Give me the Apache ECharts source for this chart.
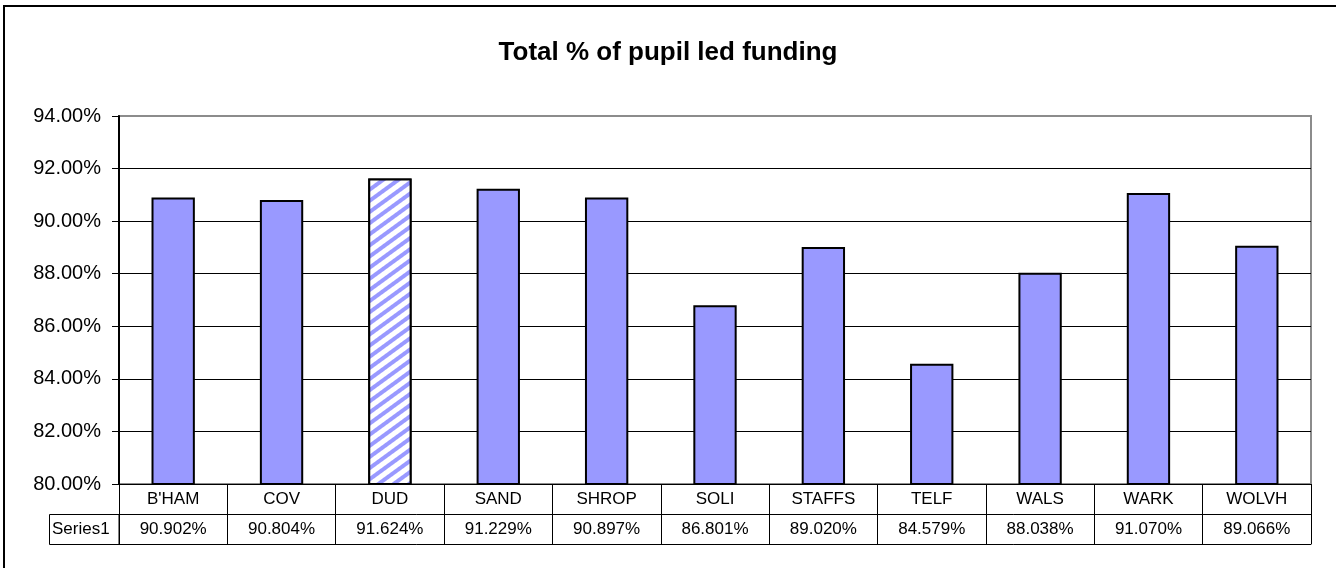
<!DOCTYPE html>
<html>
<head>
<meta charset="utf-8">
<script src="https://cdn.jsdelivr.net/npm/echarts@6/dist/echarts.min.js"></script>
<style>
html,body{margin:0;padding:0;background:#fff;}
#chart{width:1336px;height:568px;}
</style>
</head>
<body>
<div id="chart"></div>
<script>
const title = 'Total % of pupil led funding';
const categories = ["B'HAM", 'COV', 'DUD', 'SAND', 'SHROP', 'SOLI', 'STAFFS', 'TELF', 'WALS', 'WARK', 'WOLVH'];
const values = [90.902, 90.804, 91.624, 91.229, 90.897, 86.801, 89.020, 84.579, 88.038, 91.070, 89.066];
const seriesName = 'Series1';
const highlightCategory = 'DUD';
const yMin = 80, yMax = 94, yStep = 2;

const FONT = '"Liberation Sans", Arial, sans-serif';
const BLUE = '#9999FF';

const chart = echarts.init(document.getElementById('chart'), null, {renderer: 'canvas'});

const barData = values.map((v, i) => {
  if (categories[i] === highlightCategory) {
    return {
      value: v,
      itemStyle: {
        color: '#ffffff',
        decal: {
          symbol: 'rect',
          symbolSize: 1,
          dashArrayX: [1, 0],
          dashArrayY: [4, 5],
          rotation: -0.63,
          color: BLUE,
          backgroundColor: '#ffffff'
        }
      }
    };
  }
  return v;
});

const option = {
  backgroundColor: '#ffffff',
  animation: false,
  title: {
    text: title,
    left: 'center',
    top: 35,
    textStyle: {fontFamily: FONT, fontSize: 26, fontWeight: 'bold', color: '#000'}
  },
  grid: {
    left: 119, right: 25, top: 116, bottom: 84,
    show: true, borderColor: '#8c8c8c', borderWidth: 2, backgroundColor: 'transparent'
  },
  xAxis: [
    {
      type: 'category', data: categories, position: 'bottom', offset: 0,
      axisLine: {show: true, lineStyle: {color: '#000', width: 1}},
      axisTick: {show: true, alignWithLabel: false, inside: false, length: 60, lineStyle: {color: '#000', width: 1}},
      axisLabel: {show: true, interval: 0, margin: 15, verticalAlign: 'middle', fontFamily: FONT, fontSize: 17, color: '#000'},
      splitLine: {show: false}
    },
    {
      type: 'category', data: categories, position: 'bottom', offset: 30,
      axisLine: {show: true, lineStyle: {color: '#000', width: 1}},
      axisTick: {show: false},
      axisLabel: {
        show: true, interval: 0, margin: 15, verticalAlign: 'middle', fontFamily: FONT, fontSize: 17, color: '#000',
        formatter: (val, idx) => values[idx].toFixed(3) + '%'
      },
      splitLine: {show: false}
    },
    {
      type: 'category', data: categories, position: 'bottom', offset: 60,
      axisLine: {show: true, lineStyle: {color: '#000', width: 1}},
      axisTick: {show: false},
      axisLabel: {show: false},
      splitLine: {show: false}
    }
  ],
  yAxis: {
    type: 'value', min: yMin, max: yMax, interval: yStep,
    axisLine: {show: true, lineStyle: {color: '#000', width: 2}},
    axisTick: {show: true, length: 7, lineStyle: {color: '#000', width: 1}},
    axisLabel: {margin: 18, fontFamily: FONT, fontSize: 20, color: '#000',
      formatter: v => v.toFixed(2) + '%'},
    splitLine: {show: true, showMaxLine: false, lineStyle: {color: '#000', width: 1}}
  },
  series: [{
    name: seriesName,
    type: 'bar',
    xAxisIndex: 0,
    data: barData,
    barWidth: '40%',
    itemStyle: {color: BLUE, borderColor: '#000', borderWidth: 2},
    z: 3
  }],
  graphic: [
    {
      type: 'rect', silent: true,
      shape: {x: 4, y: 6, width: 1340, height: 600},
      style: {fill: 'none', stroke: '#000', lineWidth: 2}
    },
    {
      type: 'rect', silent: true,
      shape: {x: 49.5, y: 514.5, width: 69.5, height: 30},
      style: {fill: 'none', stroke: '#000', lineWidth: 1}
    },
    {
      type: 'text', silent: true,
      style: {x: 52, y: 529.5, text: seriesName, fontFamily: FONT, fontSize: 17, fill: '#000', verticalAlign: 'middle'}
    }
  ]
};
chart.setOption(option);
</script>
</body>
</html>
